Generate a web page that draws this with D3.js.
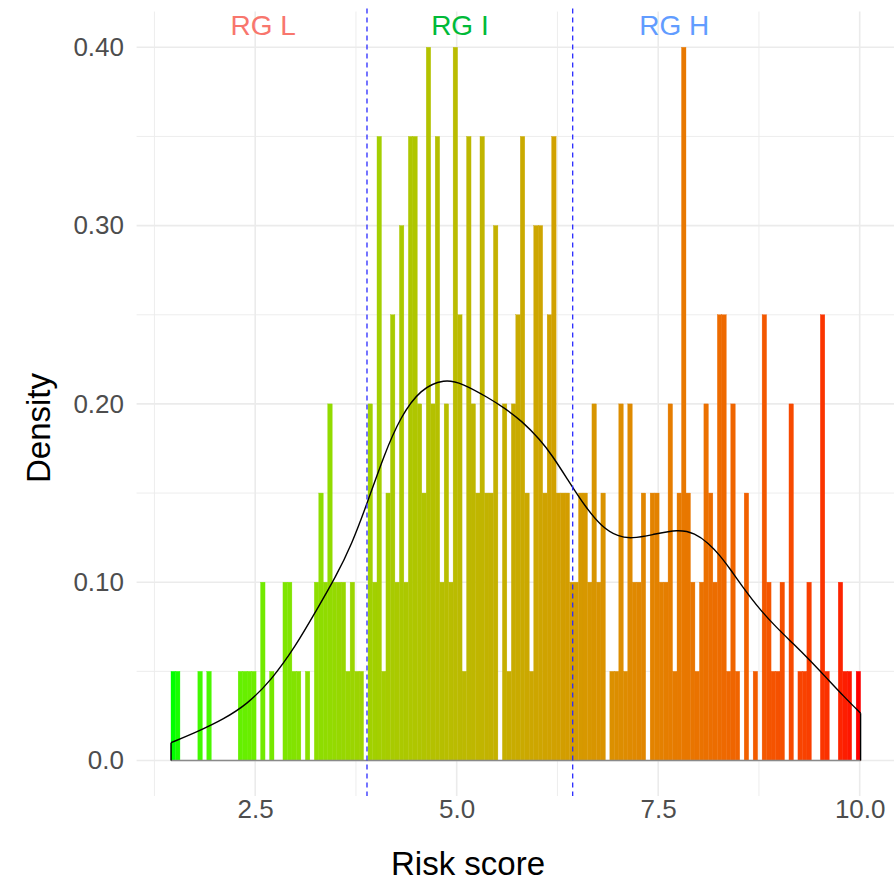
<!DOCTYPE html>
<html><head><meta charset="utf-8">
<script src="https://cdn.jsdelivr.net/npm/d3@7"></script>
<style>
body{margin:0;background:#fff}
svg{display:block}
text{font-family:"Liberation Sans",Arial,Helvetica,sans-serif}
</style>
</head><body>
<svg id="chart" width="894" height="883"></svg>
<script>
// ---------- data ----------
const binStart = 1.4553;      // left edge of first histogram bin (risk score)
const binWidth = 0.05556;     // histogram bin width
// density of each bin (154 bins)
const binDensity = [
 0.05,0.05,0,0,0,0,0.05,0,0.05,0, 0,0,0,0,0,0.05,0.05,0.05,0.05,0,
 0.10,0,0.05,0,0,0.10,0.10,0.05,0.05,0, 0.05,0,0.10,0.15,0.10,0.20,0.10,0.10,0.10,0.05,
 0.10,0.05,0.05,0,0.20,0.10,0.35,0.05,0.15,0.25, 0.10,0.30,0.10,0.35,0.35,0.20,0.15,0.40,0.20,0.35,
 0.10,0.20,0.10,0.40,0.25,0.05,0.35,0.20,0.15,0.35, 0.15,0.15,0.30,0,0.20,0.05,0.20,0.25,0.35,0.15,
 0.05,0.30,0.30,0.15,0.25,0.35,0.15,0.15,0.15,0.10, 0.10,0.15,0.15,0.10,0.20,0.10,0.15,0,0.05,0.05,
 0.20,0.05,0.20,0.10,0.10,0.15,0,0.15,0.15,0.10, 0.10,0.20,0.05,0.15,0.40,0.15,0.10,0.05,0.10,0.20,
 0.15,0.10,0.25,0.25,0.05,0.20,0.05,0,0.15,0, 0.05,0,0.25,0.10,0.05,0.05,0.10,0,0.20,0,
 0.05,0.05,0.10,0,0,0.25,0.05,0,0,0.10, 0.05,0.05,0,0.05
];
// kernel density estimate
const densityX = [1.456,1.80,2.10,2.40,2.70,3.00,3.25,3.50,3.70,3.887,4.10,4.30,4.55,4.85,5.062,5.392,5.599,5.806,6.034,6.179,6.385,6.592,6.799,7.005,7.171,7.419,7.749,7.957,8.122,8.267,8.391,8.556,8.763,8.970,9.176,9.383,9.591,9.797,10.011];
const densityY = [0.0100,0.0165,0.0230,0.0315,0.0450,0.0640,0.0835,0.1030,0.1215,0.1440,0.1715,0.1925,0.2085,0.2140,0.2117,0.2035,0.1975,0.1905,0.1800,0.1715,0.1570,0.1425,0.1310,0.1255,0.1245,0.1265,0.1298,0.1275,0.1220,0.1150,0.1075,0.0968,0.0845,0.0745,0.0655,0.0562,0.0462,0.0362,0.0265];
const cutoffs = [3.887, 6.439];
const groupLabels = ["RG L","RG I","RG H"];
const groupLabelX = [2.60, 5.04, 7.70];
const groupLabelY = 0.4125;
const groupColors = ["#F8766D","#00BA38","#619CFF"];
const xTicks = [2.5, 5.0, 7.5, 10.0];
const xTickLabels = ["2.5","5.0","7.5","10.0"];
const xMinor = [1.25, 3.75, 6.25, 8.75];
const yTicks = [0, 0.1, 0.2, 0.3, 0.4];
const yTickLabels = ["0.0","0.10","0.20","0.30","0.40"];
const yMinor = [0.05, 0.15, 0.25, 0.35];
const xTitle = "Risk score";
const yTitle = "Density";

// ---------- layout ----------
const panel = {left: 136.6, right: 894, top: 11.6, bottom: 796};
const svg = d3.select("#chart");

const x = d3.scaleLinear().domain([2.5, 10]).range([255.2, 859.7]);
const y = d3.scaleLinear().domain([0, 0.4]).range([760.5, 47.3]);

const binEnd = binStart + binWidth * binDensity.length;
const fill = d3.scaleLinear()
  .domain([binStart + binWidth/2, binEnd - binWidth/2])
  .range(["#00ff00", "#ff0000"])
  .interpolate(d3.interpolateLab);

// grid
const grid = svg.append("g");
grid.selectAll(".ymin").data(yMinor).join("line")
  .attr("x1", panel.left).attr("x2", panel.right)
  .attr("y1", d => y(d)).attr("y2", d => y(d))
  .attr("stroke", "#ebebeb").attr("stroke-width", 0.9);
grid.selectAll(".xmin").data(xMinor).join("line")
  .attr("x1", d => x(d)).attr("x2", d => x(d))
  .attr("y1", panel.top).attr("y2", panel.bottom)
  .attr("stroke", "#ebebeb").attr("stroke-width", 0.9);
grid.selectAll(".ymaj").data(yTicks).join("line")
  .attr("x1", panel.left).attr("x2", panel.right)
  .attr("y1", d => y(d)).attr("y2", d => y(d))
  .attr("stroke", "#ebebeb").attr("stroke-width", 1.6);
grid.selectAll(".xmaj").data(xTicks).join("line")
  .attr("x1", d => x(d)).attr("x2", d => x(d))
  .attr("y1", panel.top).attr("y2", panel.bottom)
  .attr("stroke", "#ebebeb").attr("stroke-width", 1.6);

// histogram bars
const bins = binDensity.map((d, i) => ({x0: binStart + i*binWidth, x1: binStart + (i+1)*binWidth, d}));
svg.append("g").selectAll("rect").data(bins.filter(b => b.d > 0)).join("rect")
  .attr("x", b => x(b.x0))
  .attr("width", b => x(b.x1) - x(b.x0))
  .attr("y", b => y(b.d))
  .attr("height", b => y(0) - y(b.d))
  .attr("fill", b => fill((b.x0 + b.x1)/2))
  .attr("stroke", b => fill((b.x0 + b.x1)/2))
  .attr("stroke-width", 0.35);

// density outline
const pts = densityX.map((v, i) => [v, densityY[i]]);
const xFirst = densityX[0], xLast = densityX[densityX.length-1];
svg.append("line")
  .attr("x1", x(xFirst)).attr("x2", x(xLast))
  .attr("y1", y(0)).attr("y2", y(0))
  .attr("stroke", "#8a8a8a").attr("stroke-width", 1.6);
const straight = d3.line().x(d => x(d[0])).y(d => y(d[1]));
svg.append("path")
  .attr("d", straight([[xFirst, 0], pts[0]]))
  .attr("stroke", "#000").attr("stroke-width", 1.4).attr("fill", "none");
svg.append("path")
  .attr("d", straight([pts[pts.length-1], [xLast, 0]]))
  .attr("stroke", "#000").attr("stroke-width", 1.4).attr("fill", "none");
const smooth = d3.line().x(d => x(d[0])).y(d => y(d[1])).curve(d3.curveBasis);
svg.append("path").datum(pts)
  .attr("d", smooth)
  .attr("stroke", "#000").attr("stroke-width", 1.4).attr("fill", "none");

// cutoff lines
svg.append("g").selectAll("line").data(cutoffs).join("line")
  .attr("x1", d => x(d)).attr("x2", d => x(d))
  .attr("y1", panel.top - 3).attr("y2", panel.bottom)
  .attr("stroke", "#2b2bff").attr("stroke-width", 1.3)
  .attr("stroke-dasharray", "5,4");

// group labels
svg.append("g").selectAll("text").data(groupLabels).join("text")
  .attr("x", (d, i) => x(groupLabelX[i]))
  .attr("y", y(groupLabelY))
  .attr("dy", "0.35em")
  .attr("text-anchor", "middle")
  .attr("font-size", 28)
  .attr("fill", (d, i) => groupColors[i])
  .text(d => d);

// axes (no lines/ticks, labels only)
const xAxis = d3.axisBottom(x).tickValues(xTicks).tickSize(0).tickPadding(0)
  .tickFormat((d, i) => xTickLabels[i]);
const gx = svg.append("g").attr("transform", `translate(0,${818})`).call(xAxis);
gx.select(".domain").remove();
gx.selectAll("text").attr("dy", 0).attr("font-size", 26).attr("fill", "#4d4d4d")
  .attr("font-family", "'Liberation Sans',Arial,Helvetica,sans-serif");

const yAxis = d3.axisLeft(y).tickValues(yTicks).tickSize(0).tickPadding(0)
  .tickFormat((d, i) => yTickLabels[i]);
const gy = svg.append("g").attr("transform", `translate(${124},0)`).call(yAxis);
gy.select(".domain").remove();
gy.selectAll("text").attr("font-size", 26).attr("fill", "#4d4d4d")
  .attr("font-family", "'Liberation Sans',Arial,Helvetica,sans-serif");

// titles
svg.append("text").attr("x", 468).attr("y", 875).attr("text-anchor", "middle")
  .attr("font-size", 33).attr("fill", "#000").text(xTitle);
svg.append("text").attr("transform", "translate(50,428) rotate(-90)")
  .attr("text-anchor", "middle").attr("font-size", 33).attr("fill", "#000").text(yTitle);
</script>
</body></html>
